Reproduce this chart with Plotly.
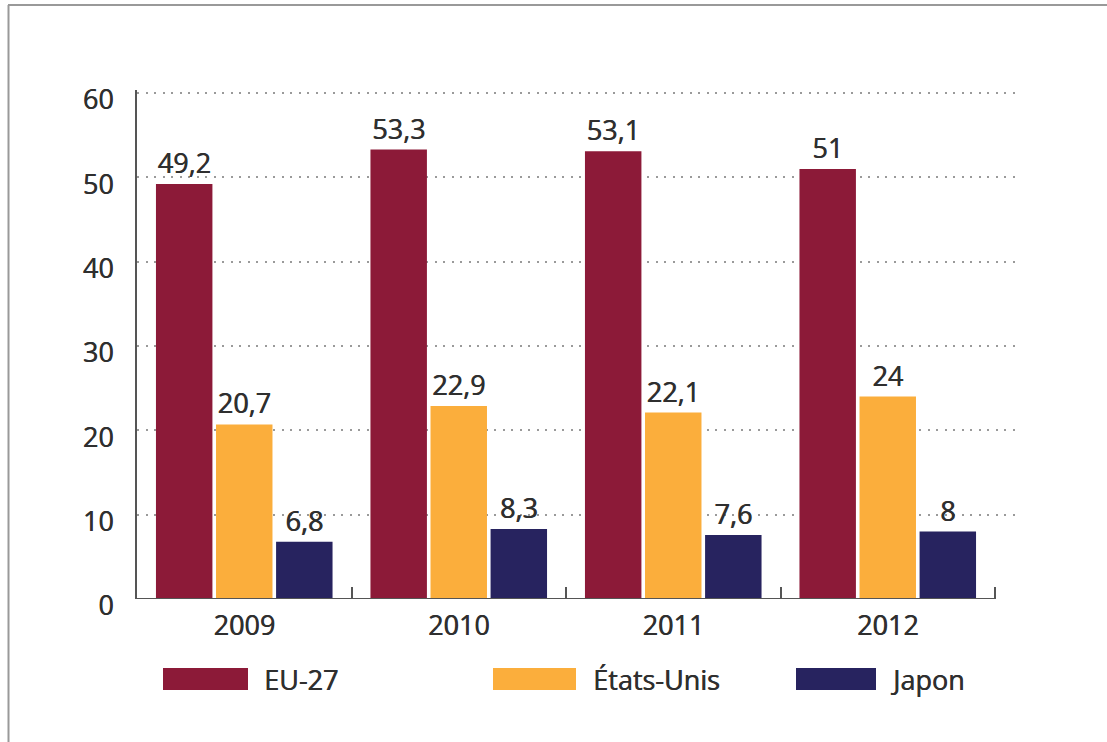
import plotly.graph_objects as go

years = ["2009", "2010", "2011", "2012"]
eu27 = [49.2, 53.3, 53.1, 51]
etats_unis = [20.7, 22.9, 22.1, 24]
japon = [6.8, 8.3, 7.6, 8]
series_names = ["EU-27", "États-Unis", "Japon"]
colors = ["#8C1A38", "#FBAE3C", "#27235F"]
y_ticks = [0, 10, 20, 30, 40, 50, 60]

FONT = "Open Sans, Noto Sans, sans-serif"
TXT = "#2f2f2f"
FS = 27
SH = "0.6px 0px 0px #2f2f2f"

def fnt():
    return dict(family=FONT, size=FS, color=TXT, shadow=SH)

def lab(v):
    return f"{v:g}".replace(".", ",")

fig = go.Figure()
for name, vals, col in zip(series_names, [eu27, etats_unis, japon], colors):
    fig.add_trace(go.Bar(
        x=years, y=vals, name=name, marker=dict(color=col, line=dict(width=0)),
        text=[lab(v) for v in vals], textposition="outside",
        textfont=fnt(), constraintext="none", cliponaxis=False, showlegend=False,
    ))

# geometry helpers (pixel -> paper)
L, R, T, B = 137, 1015, 90, 599
def px(x):
    return (x - L) / (R - L)
def py(y):
    return (B - y) / (B - T)

shapes = [
    dict(type="line", xref="x", yref="y", x0=-0.5, x1=3.5, y0=0, y1=0,
         line=dict(color="#555555", width=2), layer="above"),
    dict(type="line", xref="paper", yref="paper", x0=px(8), x1=px(1107), y0=py(5), y1=py(5),
         line=dict(color="#999999", width=2)),
    dict(type="line", xref="paper", yref="paper", x0=px(8.5), x1=px(8.5), y0=py(5), y1=py(742),
         line=dict(color="#999999", width=2)),
]
annotations = []
legend_pos = [(163, 248, 262), (493, 576, 591), (796, 876, 888)]
for (x0, x1, tx), name, col in zip(legend_pos, series_names, colors):
    shapes.append(dict(type="rect", xref="paper", yref="paper",
                       x0=px(x0), x1=px(x1), y0=py(690), y1=py(668),
                       fillcolor=col, line=dict(width=0)))
    annotations.append(dict(xref="paper", yref="paper", x=px(tx), y=py(679),
                            xanchor="left", yanchor="middle", showarrow=False,
                            text=name, font=fnt()))

fig.update_layout(
    width=1107, height=742,
    margin=dict(l=L, r=1107 - R, t=T, b=742 - B, autoexpand=False),
    paper_bgcolor="white", plot_bgcolor="white",
    barmode="group", bargap=0.16, bargroupgap=0.06,
    separators=", ",
    shapes=shapes, annotations=annotations,
    font=dict(family=FONT, size=FS, color=TXT),
    showlegend=False,
    xaxis=dict(type="category", range=[-0.5, 3.5 + 20 / 214.5], showline=False,
               showgrid=False, zeroline=False, tickson="boundaries", ticks="inside",
               ticklen=12, tickwidth=2, tickcolor="#555555",
               tickfont=fnt(), ticklabelstandoff=8, automargin=False),
    yaxis=dict(range=[0, 60 * (B - T) / 506], tickvals=y_ticks, showline=True,
               linecolor="#555555", linewidth=2, ticks="", zeroline=False,
               showgrid=True, gridcolor="#9a9a9a", gridwidth=2, griddash="2px,6.5px",
               tickfont=fnt(), ticklabelstandoff=16, ticklabelshift=7, automargin=False),
)

fig.write_html("out.html", config={"displayModeBar": False},
               post_script="document.body.style.margin='0';")
